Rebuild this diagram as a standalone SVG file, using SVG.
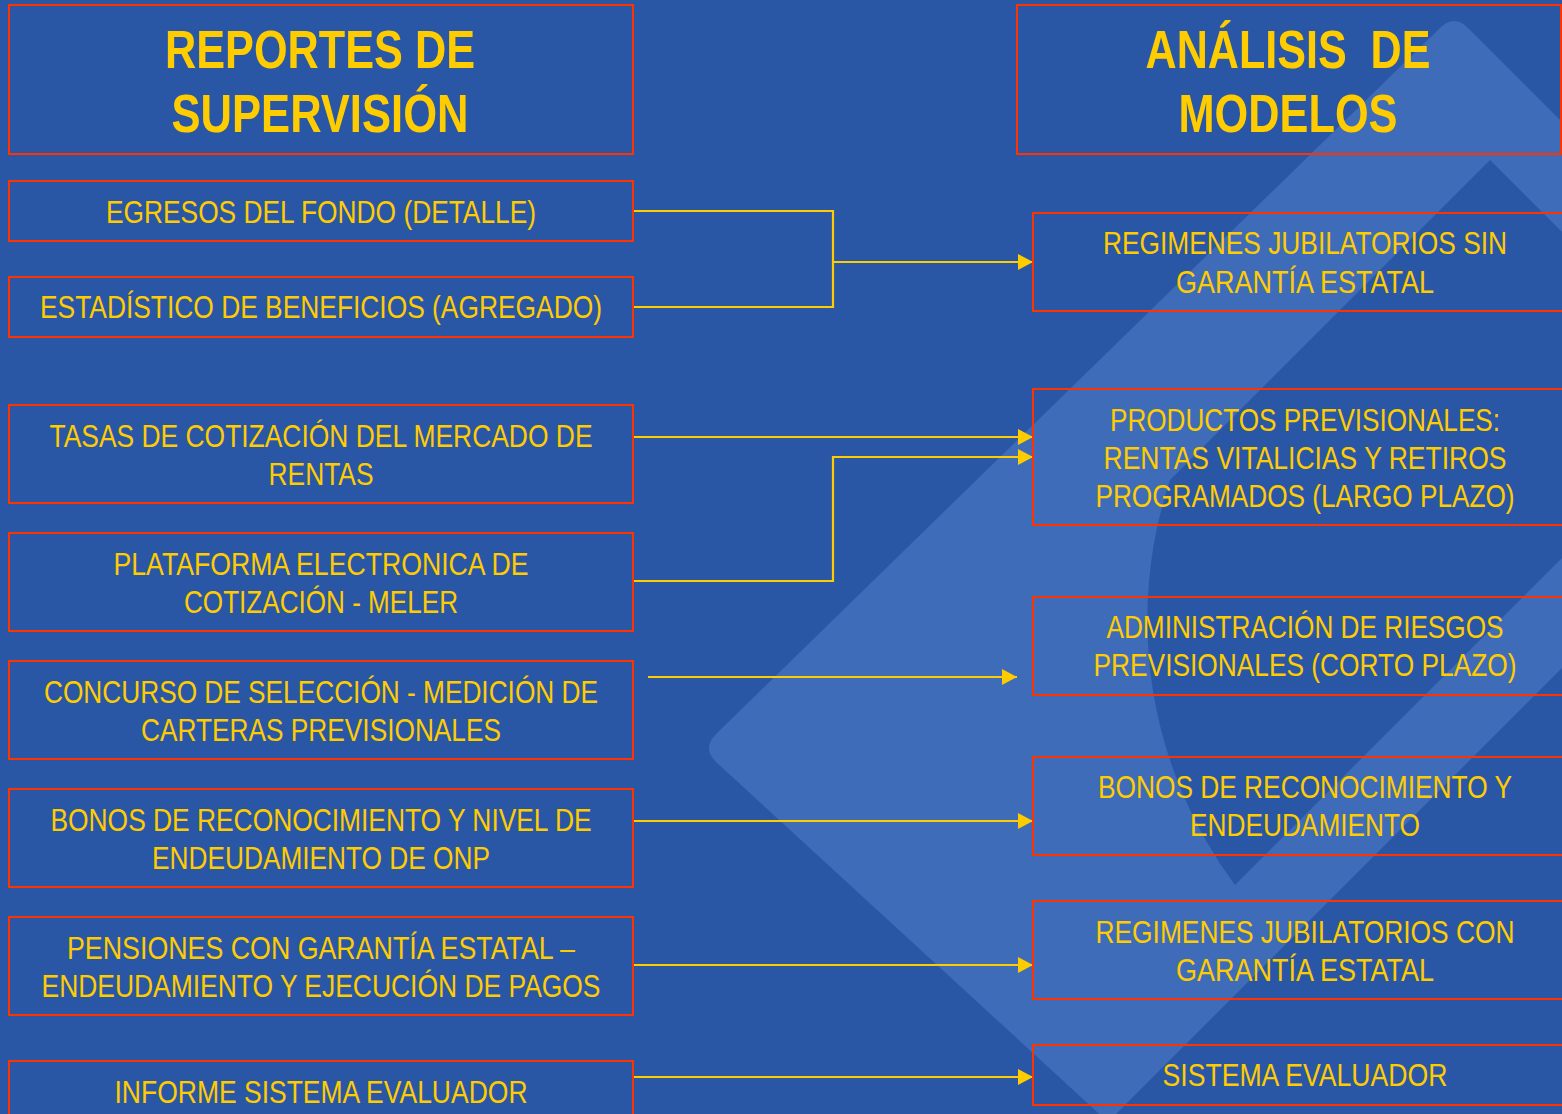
<svg xmlns="http://www.w3.org/2000/svg" width="1562" height="1114" viewBox="0 0 1562 1114">
<defs>
<style>
.bg{fill:#2A57A5}
.wm{fill:#3E6CB9}
.box{fill:none;stroke:#FF3300;stroke-width:2}
.t{font-family:'Liberation Sans Narrow','Liberation Sans',Arial,sans-serif;font-size:54px;font-weight:bold;fill:#FFCC00;text-anchor:middle}
.b{font-family:'Liberation Sans Narrow','Liberation Sans',Arial,sans-serif;font-size:32px;fill:#FFCC00;text-anchor:middle}
.c{fill:none;stroke:#FFCC00;stroke-width:2.2}
.ca{fill:none;stroke:#FFCC00;stroke-width:2.2;marker-end:url(#arr)}
</style>
<marker id="arr" markerUnits="userSpaceOnUse" markerWidth="15" markerHeight="16" refX="15" refY="8" orient="auto">
<path d="M0,0 L15,8 L0,16 Z" fill="#FFCC00"/>
</marker>
</defs>
<rect class="bg" x="0" y="0" width="1562" height="1114"/>
<g id="watermark">
<path class="wm" d="M1440,28 Q1454,14 1468,28 L1835,395 L1108,1122 L716,762 Q702,748 716,734 Z"/>
<path class="bg" d="M1490,160 L1170,480 A444,444 0 0 0 1235,885 L1700,420 L1700,370 Z"/>
</g>
<g id="connectors">
<path class="c" d="M633,211 H833 V307 H633"/>
<path class="ca" d="M833,262 H1033"/>
<path class="ca" d="M633,437 H1033"/>
<path class="ca" d="M633,581 H833 V457 H1033"/>
<path class="ca" d="M648,677 H1017"/>
<path class="ca" d="M633,821 H1033"/>
<path class="ca" d="M633,965 H1033"/>
<path class="ca" d="M633,1077 H1033"/>
</g>
<g id="reportes">
<rect class="box" x="9" y="5" width="624" height="149"/>
<text class="t" x="320" y="68" textLength="310" lengthAdjust="spacingAndGlyphs">REPORTES DE</text>
<text class="t" x="320" y="132" textLength="297" lengthAdjust="spacingAndGlyphs">SUPERVISIÓN</text>
</g>
<g id="egresos">
<rect class="box" x="9" y="181" width="624" height="60"/>
<text class="b" x="321" y="223" textLength="430" lengthAdjust="spacingAndGlyphs">EGRESOS DEL FONDO (DETALLE)</text>
</g>
<g id="estadistico">
<rect class="box" x="9" y="277" width="624" height="60"/>
<text class="b" x="321" y="318" textLength="562" lengthAdjust="spacingAndGlyphs">ESTADÍSTICO DE BENEFICIOS (AGREGADO)</text>
</g>
<g id="tasas">
<rect class="box" x="9" y="405" width="624" height="98"/>
<text class="b" x="321" y="447" textLength="543" lengthAdjust="spacingAndGlyphs">TASAS DE COTIZACIÓN DEL MERCADO DE</text>
<text class="b" x="321" y="485" textLength="105" lengthAdjust="spacingAndGlyphs">RENTAS</text>
</g>
<g id="plataforma">
<rect class="box" x="9" y="533" width="624" height="98"/>
<text class="b" x="321" y="575" textLength="415" lengthAdjust="spacingAndGlyphs">PLATAFORMA ELECTRONICA DE</text>
<text class="b" x="321" y="613" textLength="274" lengthAdjust="spacingAndGlyphs">COTIZACIÓN - MELER</text>
</g>
<g id="concurso">
<rect class="box" x="9" y="661" width="624" height="98"/>
<text class="b" x="321" y="703" textLength="554" lengthAdjust="spacingAndGlyphs">CONCURSO DE SELECCIÓN - MEDICIÓN DE</text>
<text class="b" x="321" y="741" textLength="360" lengthAdjust="spacingAndGlyphs">CARTERAS PREVISIONALES</text>
</g>
<g id="bonos-onp">
<rect class="box" x="9" y="789" width="624" height="98"/>
<text class="b" x="321" y="831" textLength="541" lengthAdjust="spacingAndGlyphs">BONOS DE RECONOCIMIENTO Y NIVEL DE</text>
<text class="b" x="321" y="869" textLength="338" lengthAdjust="spacingAndGlyphs">ENDEUDAMIENTO DE ONP</text>
</g>
<g id="pensiones">
<rect class="box" x="9" y="917" width="624" height="98"/>
<text class="b" x="321" y="959" textLength="508" lengthAdjust="spacingAndGlyphs">PENSIONES CON GARANTÍA ESTATAL –</text>
<text class="b" x="321" y="997" textLength="559" lengthAdjust="spacingAndGlyphs">ENDEUDAMIENTO Y EJECUCIÓN DE PAGOS</text>
</g>
<g id="informe">
<rect class="box" x="9" y="1061" width="624" height="80"/>
<text class="b" x="321" y="1103" textLength="413" lengthAdjust="spacingAndGlyphs">INFORME SISTEMA EVALUADOR</text>
</g>
<g id="analisis">
<rect class="box" x="1017" y="5" width="544" height="149"/>
<text class="t" x="1288" y="68" textLength="285" lengthAdjust="spacingAndGlyphs" xml:space="preserve">ANÁLISIS  DE</text>
<text class="t" x="1288" y="132" textLength="219" lengthAdjust="spacingAndGlyphs">MODELOS</text>
</g>
<g id="regimenes-sin">
<rect class="box" x="1033" y="213" width="531" height="98"/>
<text class="b" x="1305" y="254" textLength="404" lengthAdjust="spacingAndGlyphs">REGIMENES JUBILATORIOS SIN</text>
<text class="b" x="1305" y="293" textLength="258" lengthAdjust="spacingAndGlyphs">GARANTÍA ESTATAL</text>
</g>
<g id="productos">
<rect class="box" x="1033" y="389" width="531" height="136"/>
<text class="b" x="1305" y="431" textLength="390" lengthAdjust="spacingAndGlyphs">PRODUCTOS PREVISIONALES:</text>
<text class="b" x="1305" y="469" textLength="403" lengthAdjust="spacingAndGlyphs">RENTAS VITALICIAS Y RETIROS</text>
<text class="b" x="1305" y="507" textLength="419" lengthAdjust="spacingAndGlyphs">PROGRAMADOS (LARGO PLAZO)</text>
</g>
<g id="administracion">
<rect class="box" x="1033" y="597" width="531" height="98"/>
<text class="b" x="1305" y="638" textLength="397" lengthAdjust="spacingAndGlyphs">ADMINISTRACIÓN DE RIESGOS</text>
<text class="b" x="1305" y="676" textLength="423" lengthAdjust="spacingAndGlyphs">PREVISIONALES (CORTO PLAZO)</text>
</g>
<g id="bonos">
<rect class="box" x="1033" y="757" width="531" height="98"/>
<text class="b" x="1305" y="798" textLength="414" lengthAdjust="spacingAndGlyphs">BONOS DE RECONOCIMIENTO Y</text>
<text class="b" x="1305" y="836" textLength="230" lengthAdjust="spacingAndGlyphs">ENDEUDAMIENTO</text>
</g>
<g id="regimenes-con">
<rect class="box" x="1033" y="901" width="531" height="98"/>
<text class="b" x="1305" y="943" textLength="419" lengthAdjust="spacingAndGlyphs">REGIMENES JUBILATORIOS CON</text>
<text class="b" x="1305" y="981" textLength="258" lengthAdjust="spacingAndGlyphs">GARANTÍA ESTATAL</text>
</g>
<g id="sistema">
<rect class="box" x="1033" y="1045" width="531" height="60"/>
<text class="b" x="1305" y="1086" textLength="285" lengthAdjust="spacingAndGlyphs">SISTEMA EVALUADOR</text>
</g>
</svg>
